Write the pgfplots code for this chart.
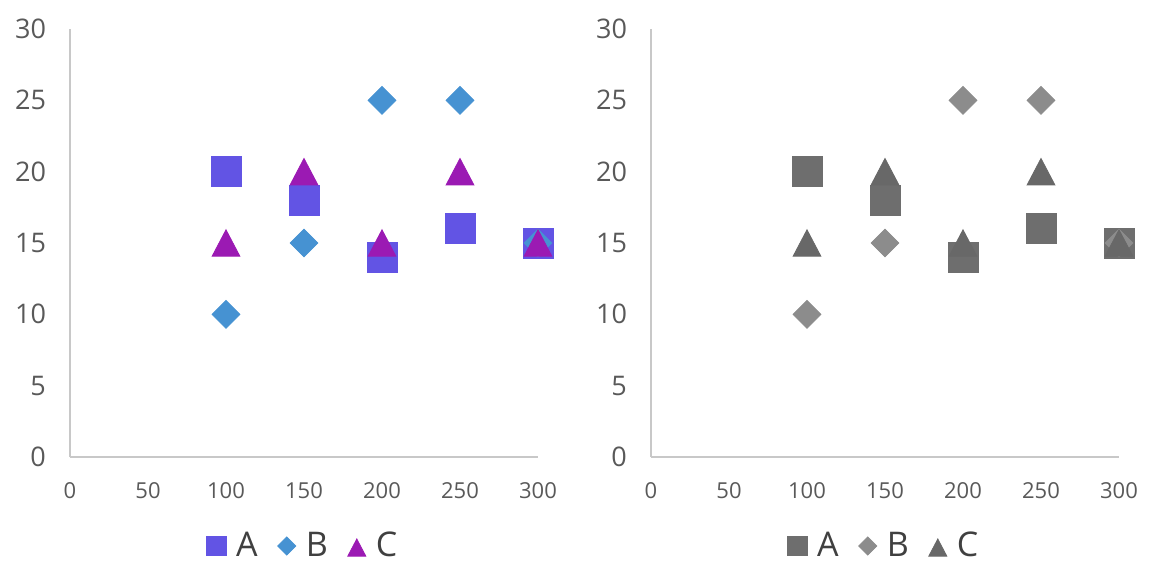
\documentclass[border=0pt]{standalone}
\usepackage{fontspec}
\setmainfont{Open Sans}
\usepackage{pgfplots}
\pgfplotsset{compat=1.18}

\definecolor{colA}{HTML}{6254E4}
\definecolor{colB}{HTML}{4692D2}
\definecolor{colC}{HTML}{9B1AB3}
\definecolor{grayA}{HTML}{6E6E6E}
\definecolor{grayB}{HTML}{8C8C8C}
\definecolor{grayC}{HTML}{686868}
\definecolor{axisgray}{HTML}{C8C8C8}
\definecolor{labelgray}{HTML}{595959}
\definecolor{legendgray}{HTML}{404040}

\pgfplotsset{
  panel/.style={
    scale only axis, width=234pt, height=214pt,
    xmin=0, xmax=300, ymin=0, ymax=30,
    axis x line=bottom, axis y line=left,
    axis line style={draw=axisgray, line width=0.9pt, -},
    xtick={0,50,...,300}, ytick={0,5,...,30},
    major tick length=0,
    /pgf/number format/assume math mode=true,
    tick label style={text=labelgray},
    xticklabel style={font=\fontsize{11}{13}\selectfont, yshift=-9pt},
    yticklabel style={font=\fontsize{13.5}{16}\selectfont, xshift=-8.5pt},
    clip=false,
    only marks,
    legend style={at={(0.5,-0.208)}, anchor=center, draw=none, fill=none,
      legend columns=-1, font=\fontsize{17}{20}\selectfont, text=legendgray,
      /tikz/every odd column/.style={column sep=3pt},
      /tikz/every even column/.style={column sep=8pt}},
    legend image code/.code={\draw[##1, every mark/.append style={scale=0.65}]
      plot coordinates {(6pt,0pt)};},
  },
  sq/.style={mark=square*, mark size=7.5pt, color=#1, fill=#1},
  dm/.style={mark=square*, mark size=4.9pt, color=#1, fill=#1, mark options={rotate=45}},
  tr/.style={mark=triangle*, mark size=8pt, color=#1, fill=#1, mark options={yshift=-2.2pt, yscale=1.1}},
}

\begin{document}
\begin{tikzpicture}
\useasboundingbox (-35pt,-64.5pt) rectangle (544pt,228.5pt);

% colour panel
\begin{axis}[panel]
\addplot[sq=colA] coordinates {(100,20) (150,18) (200,14) (250,16) (300,15)};
\addlegendentry{A}
\addplot[dm=colB] coordinates {(100,10) (150,15) (200,25) (250,25) (300,15)};
\addlegendentry{B}
\addplot[tr=colC] coordinates {(100,15) (150,20) (200,15) (250,20) (300,15)};
\addlegendentry{C}
\end{axis}

% grey panel
\begin{axis}[panel, at={(290.5pt,0pt)}]
\addplot[sq=grayA] coordinates {(100,20) (150,18) (200,14) (250,16) (300,15)};
\addlegendentry{A}
\addplot[dm=grayB] coordinates {(100,10) (150,15) (200,25) (250,25) (300,15)};
\addlegendentry{B}
\addplot[tr=grayC] coordinates {(100,15) (150,20) (200,15) (250,20) (300,15)};
\addlegendentry{C}
\end{axis}
\end{tikzpicture}
\end{document}
